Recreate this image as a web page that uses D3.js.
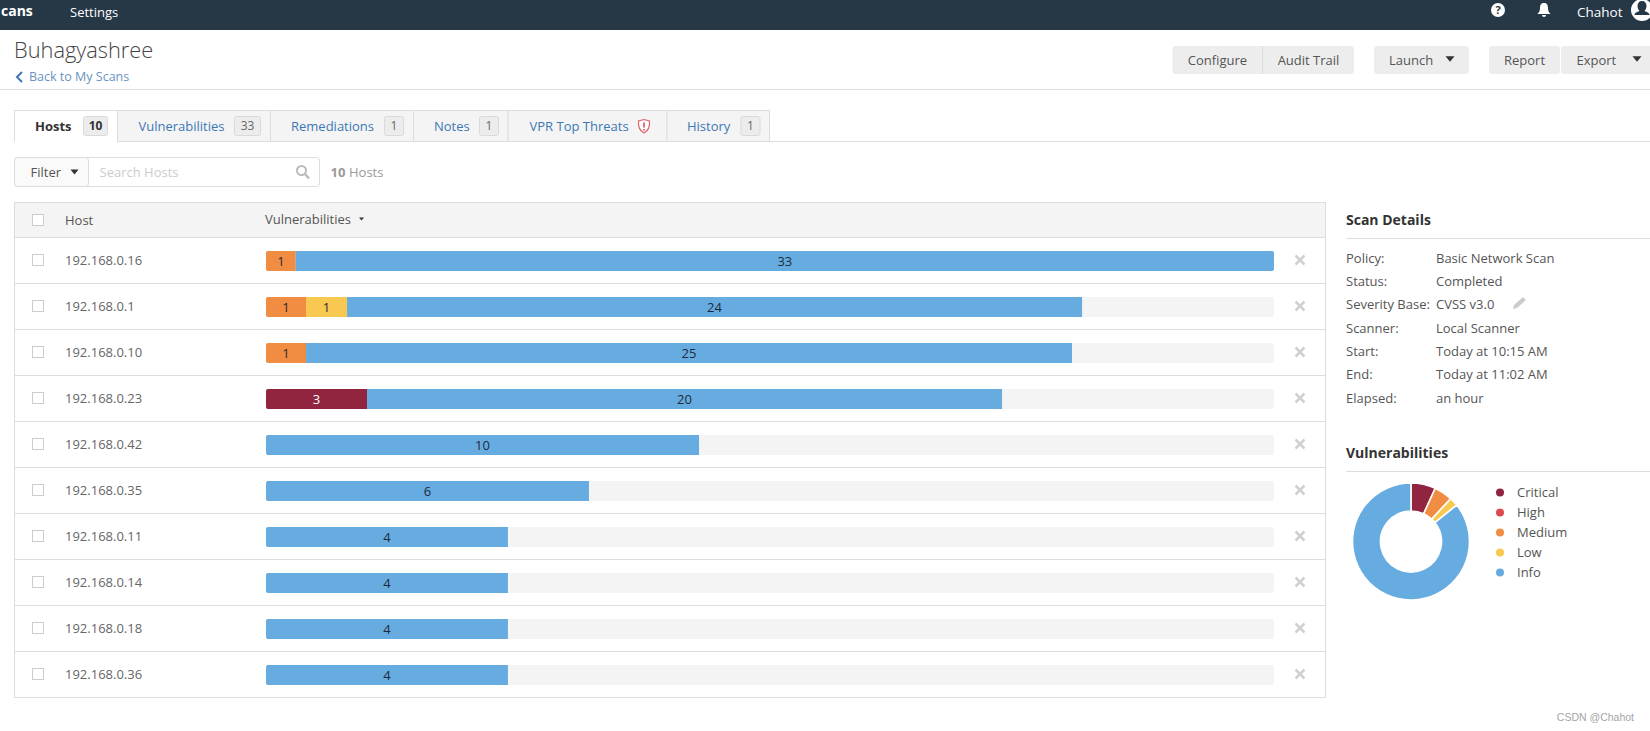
<!DOCTYPE html>
<html>
<head>
<meta charset="utf-8">
<script src="https://cdn.jsdelivr.net/npm/d3@7"></script>
<style>
    html, body { margin: 0; padding: 0; background: #fff; overflow: hidden; }
    svg { display: block; }
    text { font-family: "Open Sans", sans-serif; font-size: 13px; fill: #555; }
</style>
</head>
<body>
<div id="chart"></div>
<script>
// hosts and the counts printed on each bar
const hosts = ["192.168.0.16", "192.168.0.1", "192.168.0.10", "192.168.0.23", "192.168.0.42",
    "192.168.0.35", "192.168.0.11", "192.168.0.14", "192.168.0.18", "192.168.0.36"];
const criticalCounts = [0, 0, 0, 3, 0, 0, 0, 0, 0, 0];
const mediumCounts = [1, 1, 1, 0, 0, 0, 0, 0, 0, 0];
const lowCounts = [0, 1, 0, 0, 0, 0, 0, 0, 0, 0];
const infoCounts = [33, 24, 25, 20, 10, 6, 4, 4, 4, 4];

// the bars are not linear in the counts, so lengths are read off the picture (% of the track)
const criticalLengths = [0, 0, 0, 10.02, 0, 0, 0, 0, 0, 0];
const mediumLengths = [2.95, 3.97, 3.97, 0, 0, 0, 0, 0, 0, 0];
const lowLengths = [0, 4.07, 0, 0, 0, 0, 0, 0, 0, 0];
const infoLengths = [97.05, 72.92, 75.99, 63.0, 42.96, 32.04, 24.0, 24.0, 24.0, 24.0];

// donut
const severities = ["Critical", "High", "Medium", "Low", "Info"];
const severityShares = [6.8, 0, 5.1, 2.4, 85.7];
const severityColors = ["#91243e", "#dd4b50", "#f18c43", "#f8c851", "#67ace1"];

// page text
const tabLabels = ["Hosts", "Vulnerabilities", "Remediations", "Notes", "VPR Top Threats", "History"];
const tabCounts = ["10", "33", "1", "1", "", "1"];
const detailLabels = ["Policy:", "Status:", "Severity Base:", "Scanner:", "Start:", "End:", "Elapsed:"];
const detailValues = ["Basic Network Scan", "Completed", "CVSS v3.0", "Local Scanner",
    "Today at 10:15 AM", "Today at 11:02 AM", "an hour"];

const W = 1650, H = 731;
const border = "#dddddd", panel = "#f4f4f4", link = "#3c78b4";

const svg = d3.select("#chart").append("svg")
    .attr("width", W)
    .attr("height", H);

function label(x, y, str, opts = {}) {
    return svg.append("text")
        .attr("x", x)
        .attr("y", y)
        .attr("dy", "0.35em")
        .attr("text-anchor", opts.anchor || "start")
        .style("font-size", (opts.size || 13) + "px")
        .style("font-weight", opts.weight || 400)
        .style("fill", opts.fill || "#555")
        .style("font-family", opts.family || null)
        .text(str);
}

function box(x, y, w, h, fill, stroke, r = 0) {
    return svg.append("rect")
        .attr("x", x).attr("y", y)
        .attr("width", w).attr("height", h)
        .attr("rx", r)
        .attr("fill", fill)
        .attr("stroke", stroke || "none");
}

function hline(x1, x2, y, color = border) {
    svg.append("line")
        .attr("x1", x1).attr("x2", x2)
        .attr("y1", y).attr("y2", y)
        .attr("stroke", color);
}

function caret(cx, cy, size, color = "#333") {
    svg.append("path")
        .attr("d", `M${cx - size},${cy - size * 0.6}L${cx + size},${cy - size * 0.6}L${cx},${cy + size * 0.6}Z`)
        .attr("fill", color);
}

//top bar
box(0, 0, W, 30, "#263746");
label(1, 11, "cans", { fill: "#fff", weight: 700, size: 14 });
label(70, 12, "Settings", { fill: "#fff" });
svg.append("circle").attr("cx", 1498).attr("cy", 10).attr("r", 7).attr("fill", "#fff");
label(1498, 10.5, "?", { anchor: "middle", weight: 700, size: 11, fill: "#263746" });
svg.append("path")
    .attr("d", "M1544,3c-3,0-4,2-4,5c0,4-2,5-2.5,6h13c-.5-1-2.5-2-2.5-6c0-3-1-5-4-5zM1542,15a2,2 0 0 0 4,0z")
    .attr("fill", "#fff");
label(1577, 12, "Chahot", { fill: "#fff", size: 13.5 });
svg.append("circle").attr("cx", 1642).attr("cy", 10).attr("r", 11).attr("fill", "#fff");
svg.append("path")
    .attr("d", "M1642,1c-3,0-4.5,2-4.5,5c0,2 1,4 2,5c-2,1-5,1.5-5,4h15c0-2.5-3-3-5-4c1-1 2-3 2-5c0-3-1.5-5-4.5-5z")
    .attr("fill", "#263746");

//title block
label(14, 50, "Buhagyashree", { size: 21.8, weight: 300, fill: "#444" });
svg.append("path").attr("d", "M22,72l-5,5l5,5").attr("fill", "none").attr("stroke", link).attr("stroke-width", 2);
label(29, 77, "Back to My Scans", { fill: "#6a93c2", size: 12.5 });
hline(0, W, 89.5);

//buttons
box(1172.5, 46, 181.5, 28, "#ededed", null, 3);
svg.append("line").attr("x1", 1262.5).attr("x2", 1262.5).attr("y1", 46).attr("y2", 74).attr("stroke", "#dcdcdc");
label(1217.5, 60, "Configure", { anchor: "middle" });
label(1308.5, 60, "Audit Trail", { anchor: "middle" });
box(1374, 46, 95, 28, "#ededed", null, 3);
label(1389, 60, "Launch");
caret(1450, 59, 4.5);
box(1489, 46, 71, 28, "#ededed", null, 3);
label(1524.5, 60, "Report", { anchor: "middle" });
box(1561, 46, 100, 28, "#ededed", null, 3);
label(1576.5, 60, "Export");
caret(1637, 59, 4.5);

//tabs
const tabEdges = [14.5, 117.5, 270.5, 413.5, 508, 667, 769.5];
const tabTextX = [35, 138.5, 291, 434, 529.5, 687];
const badgeX = [[83, 24], [234, 26], [384, 19], [479, 19], null, [740.5, 19]];
hline(769, W, 141.5);
tabLabels.forEach((t, i) => {
    const active = i === 0;
    box(tabEdges[i], 110.5, tabEdges[i + 1] - tabEdges[i], 31, active ? "#fff" : panel, border, 0);
    label(tabTextX[i], 126, t, { fill: active ? "#333" : link, weight: active ? 700 : 400 });
    if (badgeX[i]) {
        box(badgeX[i][0] + 0.5, 116.5, badgeX[i][1], 19, "#ececec", "#dadada", 2);
        label(badgeX[i][0] + 0.5 + badgeX[i][1] / 2, 126, tabCounts[i], {
            anchor: "middle", size: 12, fill: active ? "#333" : "#666", weight: active ? 700 : 400
        });
    }
});
hline(15, 117, 141.5, "#fff");
// shield icon on the VPR tab
svg.append("path")
    .attr("d", "M644,119.5l5.5,1.5c.5,5.500-1,9.500-5.500,12c-4.500-2.500-6-6.500-5.500-12z")
    .attr("fill", "#fff").attr("stroke", "#e0636b").attr("stroke-width", 1.2);
svg.append("path").attr("d", "M644,122.5v5M644,129v1.500")
    .attr("stroke", "#d9434e").attr("stroke-width", 1.5);

//filter box
box(14.5, 157.5, 305, 29, "#fff", border, 3);
box(14.5, 157.5, 74, 29, "#fafafa", border, 3);
label(30.5, 172, "Filter");
caret(74.5, 172, 4);
label(99.5, 172, "Search Hosts", { fill: "#ccc" });
svg.append("circle").attr("cx", 301.5).attr("cy", 170.5).attr("r", 4.5)
    .attr("fill", "none").attr("stroke", "#bbb").attr("stroke-width", 2);
svg.append("line").attr("x1", 305).attr("y1", 174).attr("x2", 309).attr("y2", 178.5)
    .attr("stroke", "#bbb").attr("stroke-width", 2.5);
label(330.5, 172, "10", { fill: "#999", weight: 700 });
label(349, 172, "Hosts", { fill: "#999" });

//hosts table
const tableLeft = 14.5, tableRight = 1325.5;
const y = d3.scaleBand().domain(hosts).range([238, 698]);
const x = d3.scaleLinear().domain([0, 100]).range([266, 1274]);
const barH = 20;

box(tableLeft, 202.5, tableRight - tableLeft, 495, "#fff", border);
box(tableLeft, 202.5, tableRight - tableLeft, 35, panel, border);
box(32.5, 214.5, 11, 11, "#fff", "#ccc");
label(65, 220, "Host");
label(265, 219.5, "Vulnerabilities");
caret(361.5, 219, 2.5);

// one stack per host, drawn left to right
const severityOrder = [
    { color: severityColors[0], lengths: criticalLengths, counts: criticalCounts, text: "#fff" },
    { color: severityColors[2], lengths: mediumLengths, counts: mediumCounts, text: "#2a2a2a" },
    { color: severityColors[3], lengths: lowLengths, counts: lowCounts, text: "#2a2a2a" },
    { color: severityColors[4], lengths: infoLengths, counts: infoCounts, text: "#1f2a3a" }
];

const defs = svg.append("defs");
hosts.forEach((host, i) => {
    const mid = y(host) + y.bandwidth() / 2;
    if (i < hosts.length - 1) hline(tableLeft, tableRight, y(host) + y.bandwidth() - 0.5);

    box(32.5, mid - 6.5, 11, 11, "#fff", "#ccc");
    label(65, mid - 0.5, host, { fill: "#666" });

    defs.append("clipPath").attr("id", `track-${i}`)
        .append("rect")
        .attr("x", x(0)).attr("y", mid - barH / 2)
        .attr("width", x(100) - x(0)).attr("height", barH)
        .attr("rx", 2);

    const row = svg.append("g").attr("clip-path", `url(#track-${i})`);
    row.append("rect")
        .attr("x", x(0)).attr("y", mid - barH / 2)
        .attr("width", x(100) - x(0)).attr("height", barH)
        .attr("fill", panel);

    let start = 0;
    severityOrder.forEach(s => {
        const len = s.lengths[i];
        if (!len) return;
        row.append("rect")
            .attr("x", x(start)).attr("y", mid - barH / 2)
            .attr("width", x(start + len) - x(start)).attr("height", barH)
            .attr("fill", s.color);
        label((x(start) + x(start + len)) / 2, mid + 0.5, s.counts[i], { anchor: "middle", fill: s.text });
        start += len;
    });

    // remove icon
    svg.append("path")
        .attr("d", `M1295.5,${mid - 5.5}L1304.5,${mid + 3.5}M1304.5,${mid - 5.5}L1295.5,${mid + 3.5}`)
        .attr("stroke", "#d0d0d0").attr("stroke-width", 2.5);
});

//scan details
label(1346, 220.5, "Scan Details", { weight: 700, size: 14, fill: "#333" });
hline(1346, W, 238.5);
const detailY = d3.scalePoint().domain(detailLabels).range([258, 398]);
detailLabels.forEach((d, i) => {
    label(1346, detailY(d), d);
    label(1436, detailY(d), detailValues[i]);
});
svg.append("path")
    .attr("d", "M1513,309l1,-4l9,-8l3,3l-9,8z")
    .attr("fill", "#ccc");

//donut
label(1346, 453.5, "Vulnerabilities", { weight: 700, size: 14, fill: "#333" });
hline(1346, W, 471.5);
const pie = d3.pie().sort(null).value(d => d);
const arc = d3.arc().innerRadius(30.5).outerRadius(58.5);
svg.append("g")
    .attr("transform", "translate(1411,541.5)")
    .selectAll("path")
    .data(pie(severityShares))
    .join("path")
    .attr("d", arc)
    .attr("fill", (d, i) => severityColors[i])
    .attr("stroke", "#fff")
    .attr("stroke-width", d => d.value ? 1.6 : 0);

const legendY = d3.scalePoint().domain(severities).range([492.5, 572.5]);
severities.forEach((s, i) => {
    svg.append("circle")
        .attr("cx", 1500).attr("cy", legendY(s)).attr("r", 4)
        .attr("fill", severityColors[i]);
    label(1517, legendY(s), s);
});

label(1634, 717, "CSDN @Chahot", { anchor: "end", size: 10.5, fill: "#a5a5a5", family: "Liberation Sans" });
</script>
</body>
</html>
